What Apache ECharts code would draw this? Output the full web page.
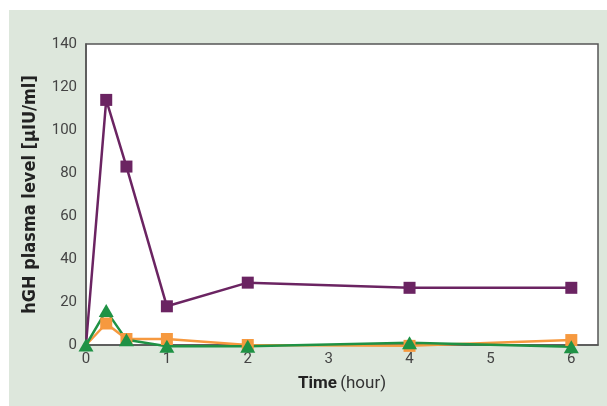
<!DOCTYPE html>
<html>
<head>
<meta charset="utf-8">
<script src="https://cdn.jsdelivr.net/npm/echarts@6/dist/echarts.min.js"></script>
<style>
  html, body { margin: 0; padding: 0; background: #ffffff; }
  #panel { position: absolute; left: 9px; top: 10px; width: 598px; height: 396px; background: #dde7dc; }
  #chart { position: absolute; left: 0; top: 0; width: 607px; height: 406px; }
</style>
</head>
<body>
<div id="panel"></div>
<div id="chart"></div>
<script>
// Sampling times (hours after dosing)
const times = [0, 0.25, 0.5, 1, 2, 4, 6];
// hGH plasma levels, µIU/ml
const purpleLevels = [0, 114, 83, 18, 29, 26.6, 26.6];
const orangeLevels = [0, 10, 2.8, 2.8, 0, -0.4, 2.3];
const greenLevels = [0, 16, 2.4, -0.6, -0.6, 1, -0.8];
const xTicks = [0, 1, 2, 3, 4, 5, 6];
const yTicks = [0, 20, 40, 60, 80, 100, 120, 140];

const pairs = (ys) => times.map((t, i) => [t, ys[i]]);
const labelFont = '"Roboto", sans-serif';
// the baseline point at t = 0 is drawn only by the triangle series
const squareExceptStart = (v, p) => (p.dataIndex === 0 ? 'none' : 'rect');

const chart = echarts.init(document.getElementById('chart'), null, { renderer: 'canvas' });
chart.setOption({
  backgroundColor: 'transparent',
  animation: false,
  grid: {
    left: 86, top: 44, right: 9, bottom: 61,
    show: true, borderColor: '#555555', borderWidth: 1.5, backgroundColor: '#ffffff'
  },
  xAxis: {
    type: 'value',
    min: 0, max: 6.33, interval: 1,
    name: '{b|Time} {r|(hour)}',
    nameLocation: 'middle',
    nameGap: 30,
    nameTextStyle: {
      rich: {
        b: { fontFamily: labelFont, fontWeight: 'bold', fontSize: 17, color: '#222' },
        r: { fontFamily: labelFont, fontSize: 17, color: '#333' }
      }
    },
    axisLine: { show: true, lineStyle: { color: '#555555', width: 1.5 } },
    axisTick: { show: false },
    splitLine: { show: false },
    axisLabel: {
      showMaxLabel: false,
      margin: 7,
      fontFamily: labelFont, fontSize: 15, color: '#444',
      formatter: (v) => (xTicks.includes(v) ? String(v) : '')
    }
  },
  yAxis: {
    type: 'value',
    min: 0, max: 140, interval: 20,
    name: 'hGH plasma level [µIU/ml]',
    nameLocation: 'middle',
    nameGap: 47,
    nameTextStyle: { fontFamily: '"DejaVu Sans Condensed", "Open Sans", sans-serif', fontWeight: 'bold', fontSize: 18, color: '#222' },
    axisLine: { show: true, lineStyle: { color: '#555555', width: 1.5 } },
    axisTick: { show: false },
    splitLine: { show: false },
    axisLabel: {
      margin: 9,
      fontFamily: labelFont, fontSize: 15, color: '#444',
      formatter: (v) => (yTicks.includes(v) ? String(v) : '')
    }
  },
  series: [
    {
      type: 'line', data: pairs(purpleLevels), clip: false,
      symbol: squareExceptStart, symbolSize: 12,
      lineStyle: { color: '#6b2462', width: 2.5 },
      itemStyle: { color: '#6b2462' }
    },
    {
      type: 'line', data: pairs(orangeLevels), clip: false,
      symbol: squareExceptStart, symbolSize: 12,
      lineStyle: { color: '#f6993f', width: 2.5 },
      itemStyle: { color: '#f6993f' }
    },
    {
      type: 'line', data: pairs(greenLevels), clip: false,
      symbol: 'triangle', symbolSize: [15, 13],
      lineStyle: { color: '#1f9245', width: 2.5 },
      itemStyle: { color: '#1f9245' }
    }
  ]
});
</script>
</body>
</html>
